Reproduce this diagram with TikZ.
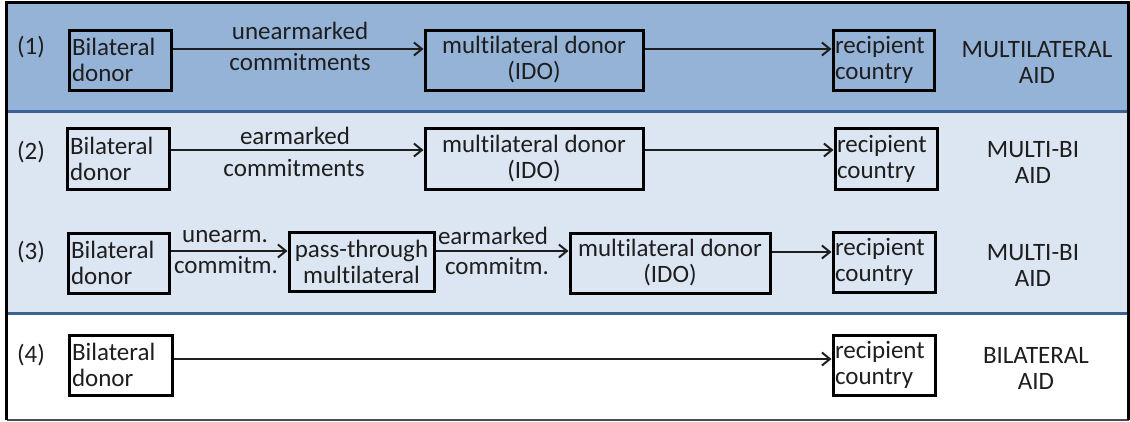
\documentclass[tikz,border=0pt]{standalone}
\usepackage{fontspec}
\setmainfont{Carlito}[Ligatures={NoCommon}]
\usetikzlibrary{arrows.meta}
\definecolor{bandA}{HTML}{95B3D7}
\definecolor{bandB}{HTML}{DCE6F2}
\definecolor{sepline}{HTML}{3C6294}
\definecolor{ink}{HTML}{1E1E1E}
\begin{document}
\begin{tikzpicture}[x=1pt,y=-1pt,
  every node/.style={font=\fontsize{25}{26}\selectfont, text=ink},
  box/.style={draw=black, line width=3pt, inner ysep=0pt, inner xsep=3pt},
  flow/.style={draw=ink, line width=2pt, -{Straight Barb[length=8pt,width=13pt,line width=2pt]}},
  lab/.style={inner sep=0pt}
]
\useasboundingbox (0,0) rectangle (1130,421);
% bands
\fill[bandA] (6.5,2) rectangle (1128.5,111.5);
\fill[bandB] (6.5,111.5) rectangle (1128.5,313.5);
\draw[sepline, line width=3pt] (6.5,111.5) -- (1128.5,111.5);
\draw[sepline, line width=3pt] (6.5,313.5) -- (1128.5,313.5);
\draw[black!70, line width=2pt] (6.5,420) -- (1128.5,420);
\draw[black, line width=3pt] (6.5,420) -- (6.5,2) -- (1128.5,2) -- (1128.5,420);

% row labels
\node[lab] (n1) at (31,47) {(1)};
\node[lab] (n2) at (31,152) {(2)};
\node[lab] (n3) at (31,252) {(3)};
\node[lab] (n4) at (31,355) {(4)};

% row 1
\node[box, text width=96pt, minimum height=60pt, align=left] (b1) at (120,60) {Bilateral\\donor};
\node[box, minimum width=218pt, minimum height=60pt, align=center] (m1) at (534,60) {multilateral donor\\(IDO)};
\node[box, inner xsep=2pt, text width=97pt, minimum height=60pt, align=left] (r1) at (883.5,60) {recipient\\country};
\draw[flow] (b1.east |- 0,49) -- (m1.west |- 0,49);
\draw[flow] (m1.east |- 0,49) -- (r1.west |- 0,49);
\node[lab] (l1a) at (300,31) {unearmarked};
\node[lab] (l1b) at (300,62) {commitments};
\node[align=center] (t1) at (1037,62) {MULTILATERAL\\AID};

% row 2
\node[box, text width=96pt, minimum height=61pt, align=left] (b2) at (118,158.5) {Bilateral\\donor};
\node[box, minimum width=218pt, minimum height=61pt, align=center] (m2) at (534,158.5) {multilateral donor\\(IDO)};
\node[box, inner xsep=2pt, text width=98pt, minimum height=61pt, align=left] (r2) at (886,158.5) {recipient\\country};
\draw[flow] (b2.east |- 0,150) -- (m2.west |- 0,150);
\draw[flow] (m2.east |- 0,150) -- (r2.west |- 0,150);
\node[lab] (l2a) at (295,136) {earmarked};
\node[lab] (l2b) at (294,168) {commitments};
\node[align=center] (t2) at (1033,162) {MULTI-BI\\AID};

% row 3
\node[box, text width=95pt, minimum height=60pt, align=left] (b3) at (118.5,263) {Bilateral\\donor};
\node[box, minimum width=145pt, minimum height=59pt, align=center] (p3) at (361.5,261.5) {pass-through\\multilateral};
\node[box, minimum width=200pt, minimum height=60pt, align=center] (m3) at (670,263) {multilateral donor\\(IDO)};
\node[box, inner xsep=2pt, text width=98pt, minimum height=60pt, align=left] (r3) at (884,262) {recipient\\country};
\draw[flow] (b3.east |- 0,251) -- (p3.west |- 0,251);
\draw[flow] (p3.east |- 0,251) -- (m3.west |- 0,251);
\draw[flow] (m3.east |- 0,252) -- (r3.west |- 0,252);
\node[lab] (l3a) at (225,237) {unearm.};
\node[lab] (l3b) at (226,265) {commitm.};
\node[lab] (l3c) at (493,236) {earmarked};
\node[lab] (l3d) at (497,266) {commitm.};
\node[align=center] (t3) at (1033,265) {MULTI-BI\\AID};

% row 4
\node[box, text width=97pt, minimum height=60pt, align=left] (b4) at (120.5,365) {Bilateral\\donor};
\node[box, inner xsep=2pt, text width=98pt, minimum height=60pt, align=left] (r4) at (884,365) {recipient\\country};
\draw[flow] (b4.east |- 0,359) -- (r4.west |- 0,359);
\node[align=center] (t4) at (1036,368) {BILATERAL\\AID};
\end{tikzpicture}
\end{document}
